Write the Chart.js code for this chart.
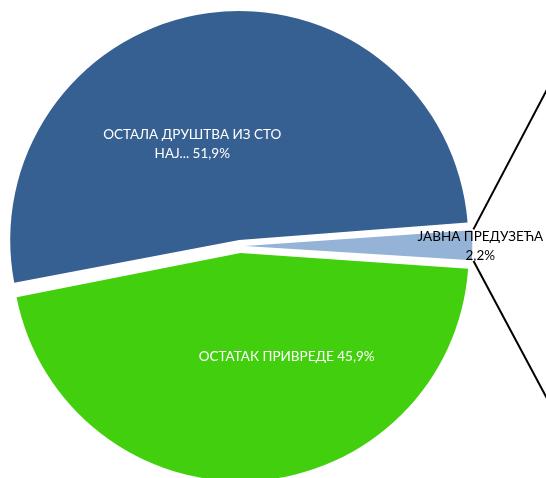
<!DOCTYPE html>
<html>
<head>
<meta charset="utf-8">
<script src="https://cdn.jsdelivr.net/npm/chart.js@4"></script>
<style>
  html, body { margin: 0; padding: 0; background: #fff; }
  #wrap { width: 546px; height: 478px; position: relative; }
</style>
</head>
<body>
<div id="wrap"><canvas id="myChart"></canvas></div>
<script>
const labels = ["ОСТАЛА ДРУШТВА ИЗ СТО НАЈ...", "ЈАВНА ПРЕДУЗЕЋА", "ОСТАТАК ПРИВРЕДЕ"];
const values = [51.9, 2.2, 45.9];
const colors = ["#376092", "#95B3D7", "#42CF0E"];

// label text lines per slice, as Excel wrapped them
const labelLines = [
    ["ОСТАЛА ДРУШТВА ИЗ СТО", "НАЈ... 51,9%"],
    ["ЈАВНА ПРЕДУЗЕЋА", "2,2%"],
    ["ОСТАТАК ПРИВРЕДЕ 45,9%"]
];

const sliceLabels = {
    id: "sliceLabels",
    afterDatasetsDraw(chart) {
        const ctx = chart.ctx;
        const arcs = chart.getDatasetMeta(0).data;
        // where the label sits: angle (deg, canvas) and fraction of radius
        const place = [[244, 0.48], [0, 1.055], [66, 0.51]];
        const txtColor = ["#ffffff", "#000000", "#ffffff"];
        ctx.save();
        ctx.font = "13.5px Lato";
        ctx.textAlign = "center";
        ctx.textBaseline = "middle";
        arcs.forEach((arc, i) => {
            const half = (arc.startAngle + arc.endAngle) / 2;
            const off = (arc.options.offset || 0) / 4;
            const cx = arc.x + Math.cos(half) * off;
            const cy = arc.y + Math.sin(half) * off;
            const a = place[i][0] * Math.PI / 180;
            const d = arc.outerRadius * place[i][1];
            const x = cx + Math.cos(a) * d;
            const y = cy + Math.sin(a) * d;
            const lines = labelLines[i];
            ctx.fillStyle = txtColor[i];
            lines.forEach((t, k) => {
                ctx.fillText(t, x, y + (k - (lines.length - 1) / 2) * 19);
            });
        });
        ctx.restore();
    }
};

// pie-of-pie connector lines from the small slice to the secondary pie (off the right edge)
const connectors = {
    id: "connectors",
    afterDatasetsDraw(chart) {
        const ctx = chart.ctx;
        const arc = chart.getDatasetMeta(0).data[1];
        const half = (arc.startAngle + arc.endAngle) / 2;
        const off = (arc.options.offset || 0) / 4;
        const cx = arc.x + Math.cos(half) * off;
        const cy = arc.y + Math.sin(half) * off;
        const r = arc.outerRadius + 6;
        ctx.save();
        ctx.strokeStyle = "#000";
        ctx.lineWidth = 2;
        [[arc.startAngle, -1.9], [arc.endAngle, 1.87]].forEach(([ang, slope]) => {
            const x0 = cx + Math.cos(ang) * r;
            const y0 = cy + Math.sin(ang) * r;
            const x1 = chart.width + 5;
            ctx.beginPath();
            ctx.moveTo(x0, y0);
            ctx.lineTo(x1, y0 + (x1 - x0) * slope);
            ctx.stroke();
        });
        ctx.restore();
    }
};

const config = {
    type: "pie",
    data: {
        labels: labels,
        datasets: [{
            data: values,
            backgroundColor: colors,
            borderWidth: 0,
            offset: [24, 20, 28]
        }]
    },
    options: {
        responsive: true,
        maintainAspectRatio: false,
        animation: false,
        rotation: 259,
        radius: 223,
        layout: { padding: { left: 0, right: 66, top: 14, bottom: 0 } },
        plugins: {
            legend: { display: false },
            tooltip: { enabled: false }
        }
    },
    plugins: [sliceLabels, connectors]
};

new Chart(document.getElementById("myChart"), config);
</script>
</body>
</html>
